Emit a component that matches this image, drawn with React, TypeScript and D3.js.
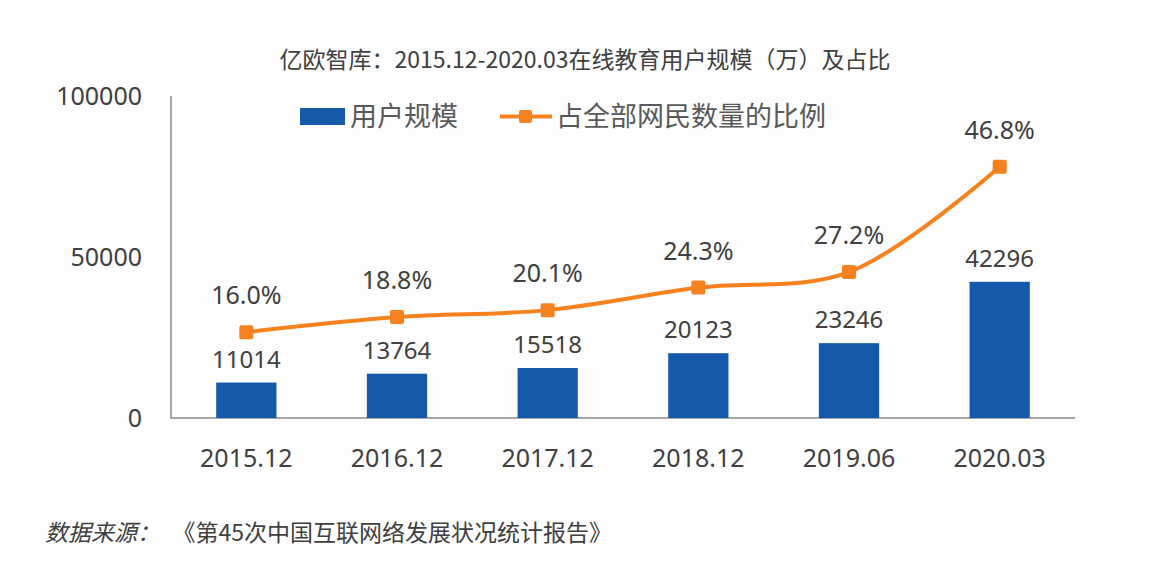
import React from "react";
import * as d3 from "d3";

const categories = ["2015.12", "2016.12", "2017.12", "2018.12", "2019.06", "2020.03"];
const users = [11014, 13764, 15518, 20123, 23246, 42296];
const ratios = [16.0, 18.8, 20.1, 24.3, 27.2, 46.8];
const yTicks = [0, 50000, 100000];

const W = 1166;
const H = 578;
const BLUE = "#1559AA";
const ORANGE = "#F5821F";
const TEXT = "#404040";
const AXIS = "#A6A6A6";
const NUM_FONT = "'Noto Sans', 'Open Sans', sans-serif";
const CJK_FONT = "'Noto Sans CJK SC', 'Noto Sans', sans-serif";

export default function App() {
  const x = d3.scaleBand<string>().domain(categories).range([171, 1075]).paddingInner(0.6).paddingOuter(0.3);
  const y = d3.scaleLinear().domain([0, 100000]).range([418, 96]);
  const y2 = d3.scaleLinear().domain([0, 60]).range([418, 96]);
  const cx = (c: string) => (x(c) as number) + x.bandwidth() / 2;

  const line = d3
    .line<number>()
    .x((_, i) => cx(categories[i]))
    .y((d) => y2(d))
    .curve(d3.curveCatmullRom.alpha(0.5));

  return (
    <svg width={W} height={H} style={{ position: "absolute", left: 0, top: 0, background: "#fff" }}>
      <rect x={0} y={0} width={W} height={H} fill="#fdfdfd" />
      {/* title */}
      <text x={585} y={68} textAnchor="middle" fontFamily={CJK_FONT} fontSize={23} fill={TEXT}>
        亿欧智库：2015.12-2020.03在线教育用户规模（万）及占比
      </text>

      {/* legend */}
      <rect x={300} y={108} width={45} height={17} fill={BLUE} />
      <text x={350} y={126} fontFamily={CJK_FONT} fontSize={27} fill="#595959">用户规模</text>
      <line x1={500} x2={552} y1={116.5} y2={116.5} stroke={ORANGE} strokeWidth={4} />
      <rect x={519} y={110} width={13} height={13} rx={2} fill={ORANGE} />
      <text x={556} y={126} fontFamily={CJK_FONT} fontSize={27} fill="#595959">占全部网民数量的比例</text>

      {/* axes */}
      <line x1={171} x2={171} y1={96} y2={418} stroke={AXIS} strokeWidth={2} />
      <line x1={170} x2={1075} y1={418} y2={418} stroke={AXIS} strokeWidth={2} />
      {yTicks.map((t) => (
        <text key={t} x={142} y={y(t)} dy="0.36em" textAnchor="end" fontFamily={NUM_FONT} fontSize={25} fill={TEXT}>
          {t}
        </text>
      ))}
      {categories.map((c) => (
        <text key={c} x={cx(c)} y={467} textAnchor="middle" fontFamily={NUM_FONT} fontSize={25} fill={TEXT}>
          {c}
        </text>
      ))}

      {/* bars */}
      {users.map((v, i) => (
        <g key={categories[i]}>
          <rect x={x(categories[i])} y={y(v)} width={x.bandwidth()} height={418 - y(v)} fill={BLUE} />
          <text x={cx(categories[i])} y={y(v) - 15} textAnchor="middle" fontFamily={NUM_FONT} fontSize={24} fill={TEXT}>
            {v}
          </text>
        </g>
      ))}

      {/* line */}
      <path d={line(ratios) || ""} fill="none" stroke={ORANGE} strokeWidth={4} />
      {ratios.map((r, i) => (
        <g key={categories[i]}>
          <rect x={cx(categories[i]) - 7} y={y2(r) - 7} width={14} height={14} rx={2} fill={ORANGE} />
          <text x={cx(categories[i])} y={y2(r) - 28} textAnchor="middle" fontFamily={NUM_FONT} fontSize={25} fill={TEXT}>
            {r.toFixed(1)}%
          </text>
        </g>
      ))}

      {/* source */}
      <text x={45} y={541} fontFamily={CJK_FONT} fontSize={23} fill={TEXT}>
        <tspan fontStyle="italic">数据来源：</tspan>
        <tspan dx={24}>《第45次中国互联网络发展状况统计报告》</tspan>
      </text>
    </svg>
  );
}
